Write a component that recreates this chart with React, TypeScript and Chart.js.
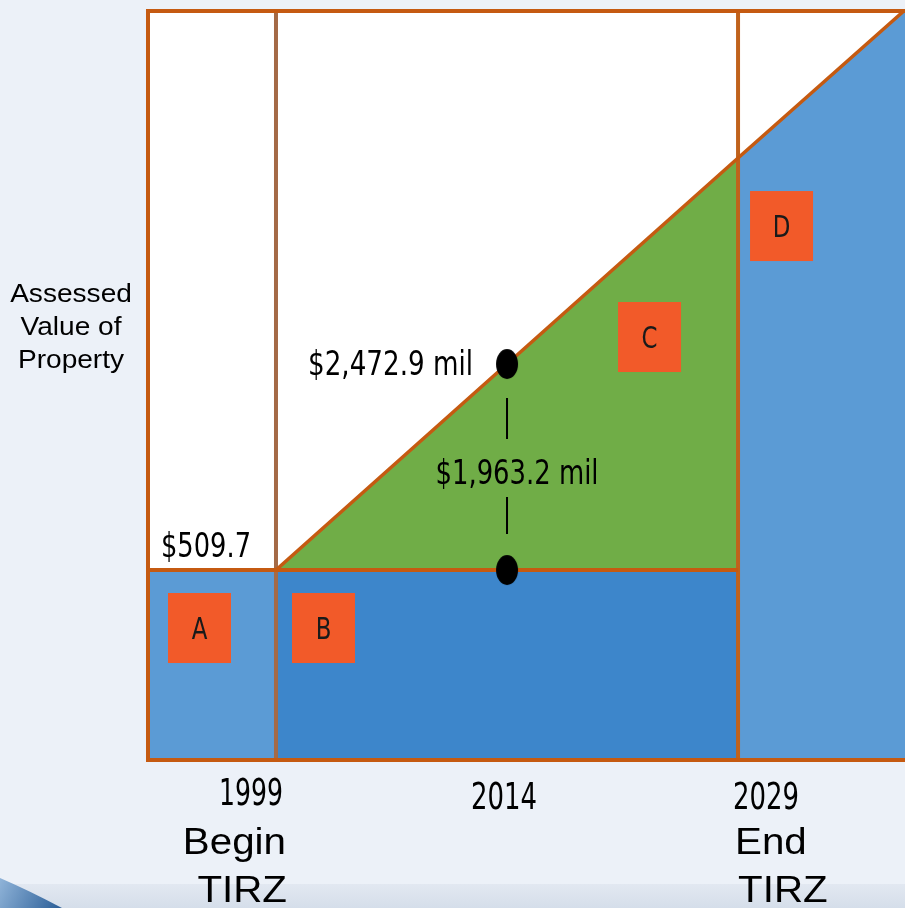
import React, { useEffect, useRef } from 'react';
import { Chart, registerables } from 'chart.js';

Chart.register(...registerables);

// ---- data ($ millions) ----
const years = [1999, 2014, 2029];
const yearLabels = ['1999', '2014', '2029'];
const phaseLabels = [['Begin', 'TIRZ'], [], ['End', 'TIRZ']];
const assessedValue = [509.7, 2472.9, 4436.0];
const baseValue = 509.7;
const incrementValue = 1963.2;
const regionLetters = ['A', 'B', 'C', 'D'];
const yAxisTitle = ['Assessed', 'Value of', 'Property'];

// scale bounds
const X_MIN = 1990.69;
const X_MAX = 2039.84;
const Y_MIN = -1301;
const Y_MAX = 5847;

const CONDENSED = '"DejaVu Sans Condensed", "Liberation Sans Narrow", "DejaVu Sans", sans-serif';
const ARIAL = '"Liberation Sans", Arial, sans-serif';
const BORDER = '#c55a11';

const fmt = (v: number) =>
  '$' + v.toLocaleString('en-US', { minimumFractionDigits: 1, maximumFractionDigits: 1 });

function drawText(
  ctx: CanvasRenderingContext2D,
  text: string,
  x: number,
  y: number,
  font: string,
  align: 'left' | 'right' | 'center',
  opts: { width?: number; sx?: number },
  color = '#000'
) {
  ctx.save();
  ctx.font = font;
  ctx.fillStyle = color;
  const w = ctx.measureText(text).width;
  const sx = opts.width ? opts.width / w : opts.sx ?? 1;
  const dw = w * sx;
  const left = align === 'left' ? x : align === 'right' ? x - dw : x - dw / 2;
  ctx.translate(left, y);
  ctx.scale(sx, 1);
  ctx.textAlign = 'left';
  ctx.textBaseline = 'alphabetic';
  ctx.fillText(text, 0, 0);
  ctx.restore();
}

const diagramPlugin = {
  id: 'diagram',
  beforeDraw(chart: any) {
    const { ctx, chartArea: ca, width, height } = chart;
    ctx.save();
    ctx.fillStyle = '#ecf1f8';
    ctx.fillRect(0, 0, width, height);
    const g = ctx.createLinearGradient(0, 884, 0, height);
    g.addColorStop(0, '#e2e8f1');
    g.addColorStop(1, '#d5deea');
    ctx.fillStyle = g;
    ctx.fillRect(0, 884, width, height - 884);
    // swoosh bottom-left
    const sg = ctx.createLinearGradient(0, 880, 60, 908);
    sg.addColorStop(0, '#8fb3d8');
    sg.addColorStop(1, '#2c5f98');
    ctx.fillStyle = sg;
    ctx.beginPath();
    ctx.moveTo(0, 878);
    ctx.quadraticCurveTo(28, 890, 62, 908);
    ctx.lineTo(0, 908);
    ctx.closePath();
    ctx.fill();
    ctx.fillStyle = '#ffffff';
    ctx.fillRect(ca.left, ca.top, ca.right - ca.left, ca.bottom - ca.top);
    ctx.restore();
  },
  afterDatasetsDraw(chart: any) {
    const { ctx, chartArea: ca } = chart;
    const xs = chart.scales.x;
    const ys = chart.scales.y;
    const x1999 = xs.getPixelForValue(years[0]);
    const xMid = xs.getPixelForValue(years[1]);
    const x2029 = xs.getPixelForValue(years[2]);
    const yBase = ys.getPixelForValue(baseValue);
    const yTop = ys.getPixelForValue(assessedValue[1]);
    const y2029 = ys.getPixelForValue(assessedValue[2]);

    ctx.save();
    // frame (top, left, bottom)
    ctx.strokeStyle = BORDER;
    ctx.lineWidth = 4;
    ctx.beginPath();
    ctx.moveTo(ca.right, ca.top + 1);
    ctx.lineTo(ca.left, ca.top + 1);
    ctx.lineTo(ca.left, ca.bottom);
    ctx.lineTo(ca.right, ca.bottom);
    ctx.stroke();

    // connector segments between dots
    const mid = (yTop + yBase) / 2;
    ctx.strokeStyle = '#000';
    ctx.lineWidth = 2;
    ctx.beginPath();
    ctx.moveTo(xMid, yTop + 34);
    ctx.lineTo(xMid, mid - 28);
    ctx.moveTo(xMid, mid + 30);
    ctx.lineTo(xMid, yBase - 36);
    ctx.stroke();

    // region letter boxes
    const boxes = [
      { l: ca.left + 20, t: yBase + 23 },
      { l: x1999 + 16, t: yBase + 23 },
      { l: x2029 - 120, t: yBase - 268 },
      { l: x2029 + 12, t: y2029 + 33 },
    ];
    boxes.forEach((b, i) => {
      ctx.fillStyle = '#f25a29';
      ctx.fillRect(b.l, b.t, 63, 70);
      drawText(ctx, regionLetters[i], b.l + 31.5, b.t + 46, `31px ${CONDENSED}`, 'center', { sx: 0.82 }, '#1a1a1a');
    });

    // value labels
    drawText(ctx, fmt(baseValue), ca.left + 13, yBase - 13, `34px ${CONDENSED}`, 'left', { width: 90 });
    drawText(ctx, fmt(assessedValue[1]) + ' mil', xMid - 34, yTop + 11, `33px ${CONDENSED}`, 'right', { width: 165 });
    drawText(ctx, fmt(incrementValue) + ' mil', xMid + 10, mid + 17, `33px ${CONDENSED}`, 'center', { width: 163 });

    // year labels
    const yb = ca.bottom;
    drawText(ctx, yearLabels[0], x1999 + 7, yb + 45, `38px ${CONDENSED}`, 'right', { width: 64 });
    drawText(ctx, yearLabels[1], xMid - 3, yb + 49, `38px ${CONDENSED}`, 'center', { width: 66 });
    drawText(ctx, yearLabels[2], x2029 - 5, yb + 49, `38px ${CONDENSED}`, 'left', { width: 66 });

    // phase labels
    phaseLabels[0].forEach((t, i) => {
      drawText(ctx, t, x1999 + 10 + i, yb + 94 + i * 48, `36px ${ARIAL}`, 'right', { sx: 1.12 });
    });
    phaseLabels[2].forEach((t, i) => {
      drawText(ctx, t, x2029 - 3 + i * 3, yb + 94 + i * 48, `36px ${ARIAL}`, 'left', { sx: 1.12 });
    });

    // y-axis title
    yAxisTitle.forEach((t, i) => {
      drawText(ctx, t, 71, 302 + i * 33, `26px ${ARIAL}`, 'center', { sx: 1.08 });
    });
    ctx.restore();
  },
};

export default function App() {
  const ref = useRef<HTMLCanvasElement | null>(null);

  useEffect(() => {
    document.body.style.margin = '0';
    document.body.style.background = '#ecf1f8';
    const dot = document.createElement('canvas');
    dot.width = 24;
    dot.height = 32;
    const dctx = dot.getContext('2d')!;
    dctx.fillStyle = '#000';
    dctx.beginPath();
    dctx.ellipse(12, 16, 11, 15, 0, 0, Math.PI * 2);
    dctx.fill();

    const fillDs = (data: any[], color: string, fill: any) => ({
      type: 'line' as const,
      data,
      backgroundColor: color,
      borderWidth: 0,
      pointRadius: 0,
      fill,
      order: 5,
    });
    const lineDs = (data: any[], color: string, width: number) => ({
      type: 'line' as const,
      data,
      borderColor: color,
      borderWidth: width,
      pointRadius: 0,
      fill: false,
      order: 3,
    });

    const chart = new Chart(ref.current!, {
      type: 'line',
      data: {
        datasets: [
          // region A
          fillDs([{ x: X_MIN, y: baseValue }, { x: years[0], y: baseValue }], '#5b9bd5', 'start'),
          // region B
          fillDs([{ x: years[0], y: baseValue }, { x: years[2], y: baseValue }], '#3d86cb', 'start'),
          // region C (increment)
          fillDs(
            years.map((yr, i) => ({ x: yr, y: assessedValue[i] })),
            '#70ad47',
            { value: baseValue }
          ),
          // region D
          fillDs([{ x: years[2], y: assessedValue[2] }, { x: X_MAX, y: Y_MAX }], '#5b9bd5', 'start'),
          // base line
          lineDs([{ x: X_MIN, y: baseValue }, { x: years[2], y: baseValue }], BORDER, 4),
          // growth line
          lineDs(
            [...years.map((yr, i) => ({ x: yr, y: assessedValue[i] })), { x: X_MAX, y: Y_MAX }],
            BORDER,
            3.5
          ),
          // begin / end verticals
          lineDs([{ x: years[0], y: Y_MIN }, { x: years[0], y: Y_MAX }], '#a46a46', 4),
          lineDs([{ x: years[2], y: Y_MIN }, { x: years[2], y: Y_MAX }], '#c0621c', 4),
          // 2014 dots
          {
            type: 'line' as const,
            data: [
              { x: years[1], y: assessedValue[1] },
              { x: years[1], y: baseValue },
            ],
            showLine: false,
            pointStyle: dot as any,
            pointRadius: 12,
            order: 1,
          },
        ] as any,
      },
      options: {
        responsive: false,
        animation: false,
        devicePixelRatio: 1,
        events: [],
        layout: { autoPadding: false, padding: { left: 148, top: 10, right: 0, bottom: 148 } },
        scales: {
          x: { type: 'linear', min: X_MIN, max: X_MAX, display: false },
          y: { type: 'linear', min: Y_MIN, max: Y_MAX, display: false },
        },
        plugins: { legend: { display: false }, tooltip: { enabled: false } },
      },
      plugins: [diagramPlugin],
    });
    return () => chart.destroy();
  }, []);

  return (
    <div style={{ position: 'absolute', left: 0, top: 0, width: 905, height: 908 }}>
      <canvas ref={ref} width={905} height={908} style={{ display: 'block' }} />
    </div>
  );
}
